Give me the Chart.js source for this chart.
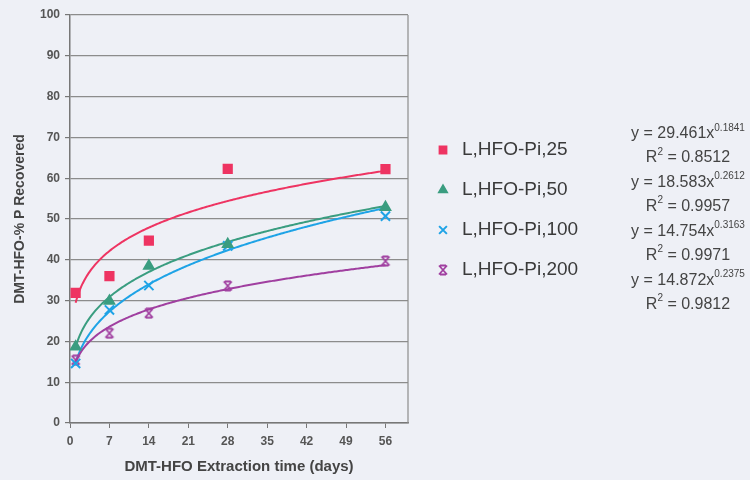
<!DOCTYPE html>
<html>
<head>
<meta charset="utf-8">
<script src="https://cdn.jsdelivr.net/npm/chart.js@4/dist/chart.umd.min.js"></script>
<style>
  html, body { margin: 0; padding: 0; background: #eef0f6; }
  #wrap { width: 750px; height: 480px; }
</style>
</head>
<body>
<div id="wrap"><canvas id="chart" width="750" height="480"></canvas></div>
<script>
// data
const xDays = [1, 7, 14, 28, 56];
const pi25 = [31.9, 36.0, 44.7, 62.3, 62.2];
const pi50 = [18.7, 29.9, 38.5, 43.8, 52.9];
const pi100 = [14.6, 27.7, 33.7, 43.4, 50.7];
const pi200 = [15.4, 22.0, 26.9, 33.6, 39.7];
const seriesNames = ['L,HFO-Pi,25', 'L,HFO-Pi,50', 'L,HFO-Pi,100', 'L,HFO-Pi,200'];
const xTickValues = [0, 7, 14, 21, 28, 35, 42, 49, 56];

// power trendlines, as printed in the chart: y = a * x^b
const fitCoef = [29.461, 18.583, 14.754, 14.872];
const fitExp = [0.1841, 0.2612, 0.3163, 0.2375];
const fitCoefText = ['29.461', '18.583', '14.754', '14.872'];
const fitExpText = ['0.1841', '0.2612', '0.3163', '0.2375'];
const fitR2Text = ['0.8512', '0.9957', '0.9971', '0.9812'];

const colors = ['#ee3462', '#3a9d80', '#1ea3e6', '#a03fa0'];
const FONT = '"Liberation Sans", Arial, sans-serif';

// Excel "star" marker: an X with small caps top and bottom
function starMarker(color) {
    const c = document.createElement('canvas');
    c.width = 12; c.height = 12;
    const g = c.getContext('2d');
    g.strokeStyle = color;
    g.lineWidth = 1.8;
    g.beginPath();
    g.moveTo(2, 1.5); g.lineTo(10, 10.5);
    g.moveTo(10, 1.5); g.lineTo(2, 10.5);
    g.moveTo(3, 1.5); g.lineTo(9, 1.5);
    g.moveTo(3, 10.5); g.lineTo(9, 10.5);
    g.stroke();
    return c;
}

const pointStyles = ['rect', 'triangle', 'crossRot', starMarker(colors[3])];
const pointSizes = [5.8, 5.5, 6.5, 6];
const seriesValues = [pi25, pi50, pi100, pi200];

const trendPlugin = {
    id: 'trend',
    beforeDatasetsDraw(chart) {
        const { ctx, chartArea, scales: { x, y } } = chart;
        ctx.save();
        ctx.beginPath();
        ctx.rect(chartArea.left, chartArea.top, chartArea.width, chartArea.height);
        ctx.clip();
        fitCoef.forEach((a, i) => {
            ctx.strokeStyle = colors[i];
            ctx.lineWidth = 2;
            ctx.beginPath();
            for (let d = xDays[0]; d <= xDays[xDays.length - 1] + 0.001; d += 0.25) {
                const px = x.getPixelForValue(d);
                const py = y.getPixelForValue(a * Math.pow(d, fitExp[i]));
                if (d === xDays[0]) ctx.moveTo(px, py); else ctx.lineTo(px, py);
            }
            ctx.stroke();
        });
        ctx.restore();
    },
    afterDraw(chart) {
        const { ctx, chartArea } = chart;
        ctx.save();
        // plot frame on the right
        ctx.strokeStyle = '#8c8c8c';
        ctx.lineWidth = 1.2;
        ctx.beginPath();
        ctx.moveTo(chartArea.right, chartArea.top);
        ctx.lineTo(chartArea.right, chartArea.bottom);
        ctx.stroke();

        // legend
        seriesNames.forEach((name, i) => {
            const ly = 150 + i * 40;
            ctx.fillStyle = colors[i];
            ctx.strokeStyle = colors[i];
            ctx.lineWidth = 2;
            Chart.helpers.drawPoint(ctx, {
                pointStyle: pointStyles[i], radius: pointSizes[i] - 1,
                borderWidth: 2, rotation: 0
            }, 443, ly);
            ctx.fillStyle = '#3a3a3a';
            ctx.font = '19px ' + FONT;
            ctx.textAlign = 'left';
            ctx.textBaseline = 'middle';
            ctx.fillText(name, 462, ly);
        });

        // trendline equations
        ctx.fillStyle = '#444';
        ctx.textBaseline = 'middle';
        ctx.textAlign = 'left';
        fitCoef.forEach((a, i) => {
            const ey = 134 + i * 48.7;
            const cx = 688;
            const main = 'y = ' + fitCoefText[i] + 'x';
            ctx.font = '16px ' + FONT;
            const w1 = ctx.measureText(main).width;
            ctx.font = '10px ' + FONT;
            const w2 = ctx.measureText(fitExpText[i]).width;
            let sx = cx - (w1 + w2) / 2;
            ctx.font = '16px ' + FONT;
            ctx.fillText(main, sx, ey);
            ctx.font = '10px ' + FONT;
            ctx.fillText(fitExpText[i], sx + w1, ey - 6);

            const ry = ey + 24;
            const r1 = 'R', r2 = ' = ' + fitR2Text[i];
            ctx.font = '16px ' + FONT;
            const wr1 = ctx.measureText(r1).width;
            const wr2 = ctx.measureText(r2).width;
            ctx.font = '10px ' + FONT;
            const wsup = ctx.measureText('2').width;
            sx = cx - (wr1 + wsup + wr2) / 2;
            ctx.font = '16px ' + FONT;
            ctx.fillText(r1, sx, ry);
            ctx.font = '10px ' + FONT;
            ctx.fillText('2', sx + wr1, ry - 6);
            ctx.font = '16px ' + FONT;
            ctx.fillText(r2, sx + wr1 + wsup, ry);
        });
        ctx.restore();
    }
};

new Chart(document.getElementById('chart'), {
    type: 'scatter',
    data: {
        datasets: seriesValues.map((vals, i) => ({
            label: seriesNames[i],
            data: xDays.map((d, j) => ({ x: d, y: vals[j] })),
            pointStyle: pointStyles[i],
            pointRadius: pointSizes[i],
            backgroundColor: colors[i],
            borderColor: colors[i],
            pointBorderWidth: 2,
            showLine: false
        }))
    },
    options: {
        responsive: false,
        animation: false,
        layout: { padding: { left: 0, top: 15, right: 342, bottom: 0 } },
        plugins: {
            legend: { display: false },
            tooltip: { enabled: false }
        },
        scales: {
            x: {
                type: 'linear',
                min: 0,
                max: 60,
                afterBuildTicks: s => { s.ticks = xTickValues.map(v => ({ value: v })); },
                afterFit: s => { s.height = 57; },
                grid: { drawOnChartArea: false, drawTicks: true, tickLength: 5, color: '#777' },
                border: { color: '#777', width: 1.5 },
                ticks: {
                    padding: 6,
                    color: '#555',
                    font: { family: FONT, size: 12, weight: 'bold' },
                    maxRotation: 0
                },
                title: {
                    display: true,
                    text: 'DMT-HFO Extraction time (days)',
                    color: '#444',
                    font: { family: FONT, size: 15, weight: 'bold' },
                    padding: { top: 0, bottom: 4 }
                }
            },
            y: {
                min: 0,
                max: 100,
                afterFit: s => { s.width = 70; },
                grid: { color: '#8c8c8c', lineWidth: 1.2, tickLength: 5, tickColor: '#777' },
                border: { color: '#777', width: 1.5 },
                ticks: {
                    stepSize: 10,
                    padding: 5,
                    color: '#555',
                    font: { family: FONT, size: 12, weight: 'bold' }
                },
                title: {
                    display: true,
                    text: 'DMT-HFO-% P Recovered',
                    color: '#444',
                    font: { family: FONT, size: 14, weight: 'bold' },
                    padding: { top: 12, bottom: 0 }
                }
            }
        }
    },
    plugins: [trendPlugin]
});
</script>
</body>
</html>
